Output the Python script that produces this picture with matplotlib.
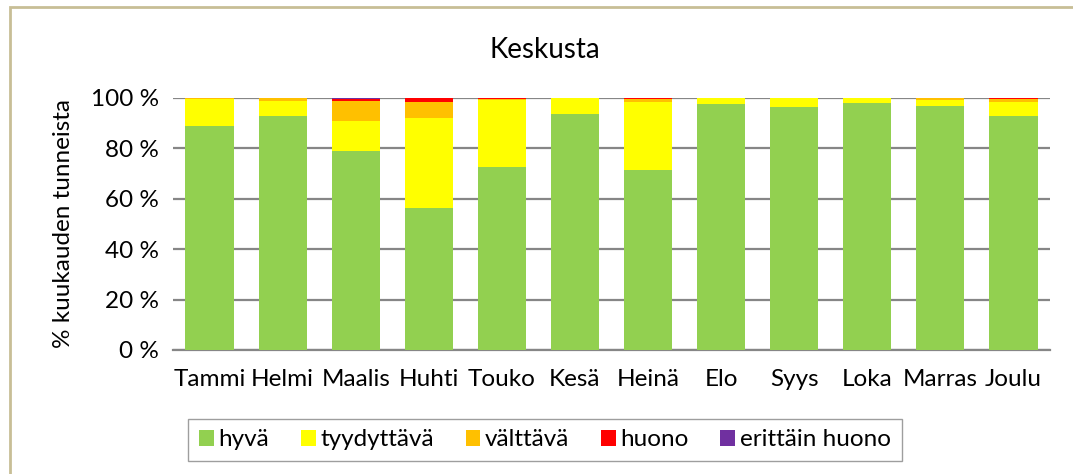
import numpy as np
import matplotlib.pyplot as plt
from matplotlib.patches import Rectangle

plt.rcParams['font.family'] = ['Lato', 'DejaVu Sans']

months = ['Tammi', 'Helmi', 'Maalis', 'Huhti', 'Touko', 'Kesä',
          'Heinä', 'Elo', 'Syys', 'Loka', 'Marras', 'Joulu']
hyva = [89.0, 92.8, 78.9, 56.2, 72.6, 93.6, 71.5, 97.6, 96.5, 98.0, 97.0, 92.8]
tyydyttava = [10.6, 6.2, 12.1, 35.9, 26.6, 6.4, 26.9, 2.4, 3.5, 2.0, 2.2, 5.5]
valttava = [0.4, 1.0, 7.8, 6.2, 0.5, 0.0, 1.2, 0.0, 0.0, 0.0, 0.8, 1.2]
huono = [0.0, 0.0, 0.7, 1.7, 0.3, 0.0, 0.4, 0.0, 0.0, 0.0, 0.0, 0.5]
erittain_huono = [0.0, 0.0, 0.5, 0.0, 0.0, 0.0, 0.0, 0.0, 0.0, 0.0, 0.0, 0.0]

series = [('hyvä', hyva, '#92D050'),
          ('tyydyttävä', tyydyttava, '#FFFF00'),
          ('välttävä', valttava, '#FFC000'),
          ('huono', huono, '#FF0000'),
          ('erittäin huono', erittain_huono, '#7030A0')]

fig = plt.figure(figsize=(10.73, 4.74), dpi=100)
ax = fig.add_axes([173 / 1073, 1 - 350 / 474, (1050 - 173) / 1073, (350 - 98) / 474])

x = np.arange(len(months))
bottom = np.zeros(len(months))
for name, vals, col in series:
    vals = np.array(vals)
    ax.bar(x, vals, bottom=bottom, width=0.66, color=col, label=name, zorder=3)
    bottom += vals

ax.set_xlim(-0.5, len(months) - 0.5)
ax.set_ylim(0, 100)
ax.set_yticks(range(0, 101, 20))
ax.set_yticklabels([f'{v} %' for v in range(0, 101, 20)])
ax.set_xticks(x)
ax.set_xticklabels(months)
ax.tick_params(axis='both', length=0, labelsize=17.5, colors='black', pad=10)
ax.tick_params(axis='x', pad=14)
ax.grid(axis='y', color='#868686', linewidth=1.6, zorder=0)
for s in ['top', 'right', 'left']:
    ax.spines[s].set_visible(False)
ax.spines['bottom'].set_color('#868686')
ax.spines['bottom'].set_linewidth(1.6)
ax.set_ylabel('% kuukauden tunneista', fontsize=17.5, labelpad=12)

fig.text(545 / 1073, 1 - 50 / 474, 'Keskusta', fontsize=20, ha='center', va='center')

leg = fig.legend(loc='center', bbox_to_anchor=(545 / 1073, 1 - 440 / 474), ncol=5,
                 fontsize=17.5, frameon=True, fancybox=False, edgecolor='#868686',
                 handlelength=0.6, handleheight=0.6, handletextpad=0.2,
                 columnspacing=1.3, borderpad=0.45)
leg.get_frame().set_linewidth(1.0)

fig.patches.append(Rectangle((10 / 1073, -0.1), 1.2, 1 - 7 / 474 + 0.1,
                             transform=fig.transFigure, fill=False,
                             edgecolor='#C8BE96', linewidth=2))

fig.savefig('out.png', dpi=100)
